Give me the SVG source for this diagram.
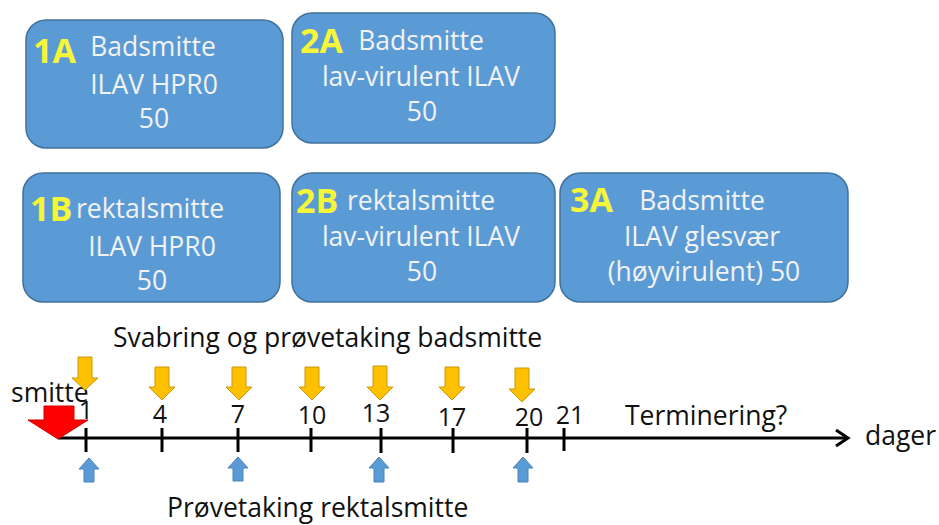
<svg xmlns="http://www.w3.org/2000/svg" width="939" height="525" viewBox="0 0 939 525">
<style>
.box{fill:#5B9BD5;stroke:#41719C;stroke-width:1.5}
.t{font-family:"Open Sans","Liberation Sans",sans-serif;font-size:26.5px;fill:#F2F2F2;text-anchor:middle}
.lbl{font-family:"Open Sans","Liberation Sans",sans-serif;font-size:34px;font-weight:bold;fill:#F5F53A}
.k{font-family:"Open Sans","Liberation Sans",sans-serif;font-size:26.5px;fill:#111}
.n{font-family:"Open Sans","Liberation Sans",sans-serif;font-size:25px;fill:#111;text-anchor:middle}
.ya{fill:#FFC000;stroke:#C9980A;stroke-width:1}
.ba{fill:#5B9BD5;stroke:#4A84BB;stroke-width:1}
</style>
<rect width="939" height="525" fill="#fff"/>
<g id="n1A">
<rect class="box" x="26" y="20" width="257" height="128" rx="20"/>
<text class="lbl" x="33" y="63">1A</text>
<text class="t" x="153" y="56">Badsmitte</text>
<text class="t" x="154" y="94">ILAV HPR0</text>
<text class="t" x="154" y="128">50</text>
</g>
<g id="n2A">
<rect class="box" x="292" y="13" width="263" height="130" rx="20"/>
<text class="lbl" x="300" y="53">2A</text>
<text class="t" x="421" y="50">Badsmitte</text>
<text class="t" x="421" y="86">lav-virulent ILAV</text>
<text class="t" x="422" y="121">50</text>
</g>
<g id="n1B">
<rect class="box" x="23" y="173" width="257" height="129" rx="20"/>
<text class="lbl" x="30" y="221">1B</text>
<text class="t" x="150" y="218">rektalsmitte</text>
<text class="t" x="152" y="256">ILAV HPR0</text>
<text class="t" x="152" y="290">50</text>
</g>
<g id="n2B">
<rect class="box" x="292" y="173" width="263" height="129" rx="20"/>
<text class="lbl" x="296" y="213">2B</text>
<text class="t" x="421" y="210">rektalsmitte</text>
<text class="t" x="421" y="246">lav-virulent ILAV</text>
<text class="t" x="422" y="281">50</text>
</g>
<g id="n3A">
<rect class="box" x="560" y="173" width="288" height="129" rx="20"/>
<text class="lbl" x="570" y="212">3A</text>
<text class="t" x="702" y="210">Badsmitte</text>
<text class="t" x="702" y="246">ILAV glesvær</text>
<text class="t" x="704" y="281">(høyvirulent) 50</text>
</g>
<g id="timeline">
<text class="k" x="113" y="347">Svabring og prøvetaking badsmitte</text>
<text class="k" x="11" y="402">smitte</text>
<text class="k" x="167" y="517">Prøvetaking rektalsmitte</text>
<text class="k" x="625" y="425">Terminering?</text>
<text class="k" x="865" y="445">dager</text>
<g id="connectors" stroke="#000" stroke-width="3" fill="none">
<line x1="58" y1="438" x2="846" y2="438"/>
<polyline points="836,430 848,438 836,446" stroke-linejoin="miter"/>
<line x1="86" y1="428" x2="86" y2="452"/>
<line x1="162" y1="428" x2="162" y2="452"/>
<line x1="238" y1="428" x2="238" y2="452"/>
<line x1="311" y1="428" x2="311" y2="452"/>
<line x1="381" y1="428" x2="381" y2="453"/>
<line x1="453" y1="428" x2="453" y2="453"/>
<line x1="527" y1="428" x2="527" y2="453"/>
<line x1="564" y1="428" x2="564" y2="451"/>
</g>
<text class="n" x="86" y="419">1</text>
<text class="n" x="160" y="423">4</text>
<text class="n" x="238" y="423">7</text>
<text class="n" x="312" y="424">10</text>
<text class="n" x="376" y="422">13</text>
<text class="n" x="452" y="426">17</text>
<text class="n" x="529" y="426">20</text>
<text class="n" x="570" y="424">21</text>
<polygon fill="#FF0000" stroke="#D00000" stroke-width="1" points="44,406 74,406 74,420 88,420 58,439 28,420 44,420"/>
<polygon class="ya" points="78,357 92,357 92,378 98,378 85,390 72,378 78,378"/>
<polygon class="ya" points="155,367 169,367 169,387 175,387 162,400 149,387 155,387"/>
<polygon class="ya" points="232,367 246,367 246,387 252,387 239,400 226,387 232,387"/>
<polygon class="ya" points="305,367 319,367 319,387 325,387 312,400 299,387 305,387"/>
<polygon class="ya" points="373,366 387,366 387,387 393,387 380,400 367,387 373,387"/>
<polygon class="ya" points="445,367 459,367 459,387 465,387 452,400 439,387 445,387"/>
<polygon class="ya" points="515,368 529,368 529,389 535,389 522,402 509,389 515,389"/>
<polygon class="ba" points="89,458 99,469 94,469 94,482 84,482 84,469 79,469"/>
<polygon class="ba" points="238,457 248,468 243,468 243,481 233,481 233,468 228,468"/>
<polygon class="ba" points="379,457 389,468 384,468 384,482 374,482 374,468 369,468"/>
<polygon class="ba" points="523,457 533,468 528,468 528,482 518,482 518,468 513,468"/>
</g>
</svg>
